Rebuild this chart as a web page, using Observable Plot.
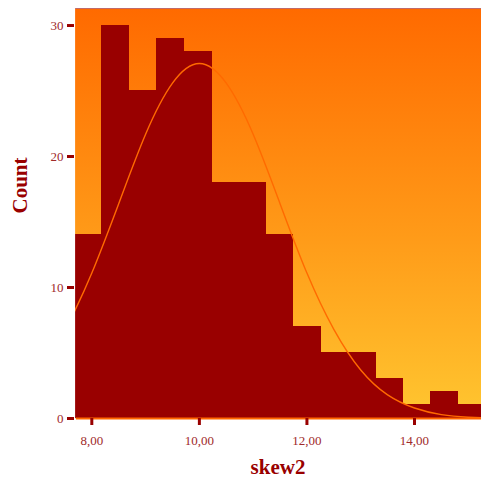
<!DOCTYPE html>
<html>
<head>
<meta charset="utf-8">
<script src="https://cdn.jsdelivr.net/npm/d3@7"></script>
<script src="https://cdn.jsdelivr.net/npm/@observablehq/plot@0.6"></script>
<style>
  html, body { margin: 0; padding: 0; background: #fff; }
  #chart svg { display: block; }
</style>
</head>
<body>
<div id="chart"></div>
<script>
// Histogram bins (lower edges), the last upper edge, and counts for skew2
const binStarts = [7.68, 8.19, 8.70, 9.21, 9.72, 10.23, 10.73, 11.24, 11.75, 12.26, 12.77, 13.28, 13.79, 14.30, 14.81];
const lastBinEnd = 15.32;
const counts = [14, 30, 25, 29, 28, 18, 18, 14, 7, 5, 5, 3, 1, 2, 1];

// Normal curve overlay
const curveX = [7.68, 8.0, 8.5, 9.0, 9.5, 10.0, 10.5, 11.0, 11.5, 12.0, 12.5, 13.0, 13.5, 14.0, 14.5, 15.0, 15.25];
const curveY = [8.2, 11.1, 16.4, 21.7, 25.6, 27.1, 25.6, 21.7, 16.4, 11.1, 6.8, 3.7, 1.8, 0.8, 0.3, 0.1, 0.06];

// Axis ticks
const xTicks = [8, 10, 12, 14];
const yTicks = [0, 10, 20, 30];

const bars = binStarts.map((s, i) => ({
  x1: s,
  x2: i + 1 < binStarts.length ? binStarts[i + 1] : lastBinEnd,
  count: counts[i]
}));
const curve = curveX.map((x, i) => ({x, y: curveY[i]}));

const dark = "#990000";
const labelColor = "#a02a2a";
const fmt = d => d.toFixed(2).replace(".", ",");

const chart = Plot.plot({
  width: 481,
  height: 485,
  marginLeft: 74,
  marginRight: 0,
  marginTop: 8,
  marginBottom: 67,
  style: {fontFamily: "'Liberation Serif', serif", fontSize: "12.5px", background: "#fff"},
  x: {domain: [7.678, 15.246]},
  y: {domain: [0, 31.3]},
  marks: [
    Plot.frame({fill: "url(#bgGrad)", stroke: "none"}),
    Plot.rectY(bars, {x1: "x1", x2: "x2", y: "count", fill: dark, stroke: dark, strokeWidth: 1, shapeRendering: "crispEdges", clip: true}),
    Plot.line(curve, {x: "x", y: "y", stroke: "#ff6a00", strokeWidth: 1.4, curve: "natural", clip: true}),
    Plot.ruleY([0], {stroke: "#ff6600", strokeWidth: 2, insetLeft: 2}),
    Plot.frame({anchor: "top", stroke: "#c06a6a", strokeWidth: 1}),
    Plot.frame({anchor: "left", stroke: "#ffffff", strokeWidth: 1.2}),
    Plot.axisY({ticks: yTicks, tickSize: 7, tickPadding: 4, stroke: dark, strokeWidth: 3, fill: labelColor, label: null, fontFamily: "'Liberation Serif', serif", fontSize: 13}),
    Plot.axisX({ticks: xTicks, tickSize: 7, tickPadding: 10, stroke: dark, strokeWidth: 3, fill: labelColor, tickFormat: fmt, label: null, fontFamily: "'Liberation Serif', serif", fontSize: 13}),
    Plot.text(["Count"], {frameAnchor: "left", dx: -54, rotate: -90, text: d => d, fill: dark, fontSize: 21, fontWeight: "bold", fontFamily: "'Liberation Serif', serif"}),
    Plot.text(["skew2"], {frameAnchor: "bottom", dy: 55, text: d => d, fill: dark, fontSize: 21, fontWeight: "bold", fontFamily: "'Liberation Serif', serif"})
  ]
});

// gradient definition for the plot background
const ns = "http://www.w3.org/2000/svg";
const defs = document.createElementNS(ns, "defs");
const grad = document.createElementNS(ns, "linearGradient");
grad.setAttribute("id", "bgGrad");
grad.setAttribute("x1", "0"); grad.setAttribute("y1", "0");
grad.setAttribute("x2", "0"); grad.setAttribute("y2", "1");
[["0%", "#ff6a00"], ["55%", "#ff9a18"], ["100%", "#ffc630"]].forEach(([o, c]) => {
  const st = document.createElementNS(ns, "stop");
  st.setAttribute("offset", o);
  st.setAttribute("stop-color", c);
  grad.appendChild(st);
});
defs.appendChild(grad);
chart.insertBefore(defs, chart.firstChild);

document.getElementById("chart").appendChild(chart);
</script>
</body>
</html>
